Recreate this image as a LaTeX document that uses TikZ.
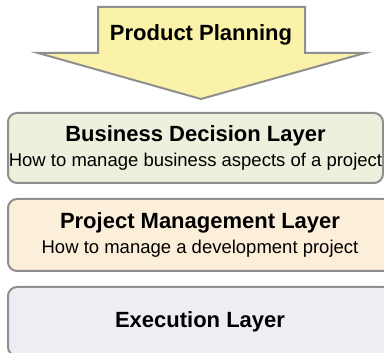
\documentclass[tikz,border=0pt]{standalone}
\usepackage{fontspec}
\setmainfont{Liberation Sans}
\usepackage{xcolor}
\usepackage{tikz}
\usetikzlibrary{positioning}
\definecolor{EdgeGray}{HTML}{8E8E8E}
\definecolor{PlanYellow}{HTML}{FBF2A9}
\definecolor{BizGreen}{HTML}{EEF0DD}
\definecolor{MgmtSand}{HTML}{FBEFD9}
\definecolor{ExecBlue}{HTML}{ECEEF3}
\newcommand{\layertitle}{\fontsize{22}{25}\selectfont\bfseries}

\begin{document}
\begin{tikzpicture}[
    x=1pt, y=-1pt,
    planarrow/.style={fill=PlanYellow, draw=EdgeGray, line width=2pt, line join=miter},
    layer/.style={draw=EdgeGray, line width=2pt, rounded corners=9pt, inner sep=0pt,
                  align=center, font=\fontsize{18.5}{25}\selectfont}
]
\useasboundingbox (0,0) rectangle (384,353);
\clip (0,0) rectangle (384,353);

% Planning arrow on top
\draw[planarrow] (98,7) -- (305,7) -- (305,53) -- (365,53) -- (201,99)
    -- (38,53) -- (98,53) -- cycle;
\node[font=\layertitle] (plan) at (201,35) {Product Planning};

% Layers, top to bottom
\node[layer, fill=BizGreen, minimum width=375pt, minimum height=70pt] (biz) at (195.5,148)
    {{\layertitle Business Decision Layer}\\
     How to manage business aspects of a project};
\node[layer, fill=MgmtSand, minimum width=384pt, minimum height=72pt] (mgmt) at (200,235)
    {{\layertitle Project Management Layer}\\
     How to manage a development project};
\node[layer, fill=ExecBlue, minimum width=384pt, minimum height=69pt] (exec) at (200,321.5)
    {\layertitle Execution Layer};
\end{tikzpicture}
\end{document}
